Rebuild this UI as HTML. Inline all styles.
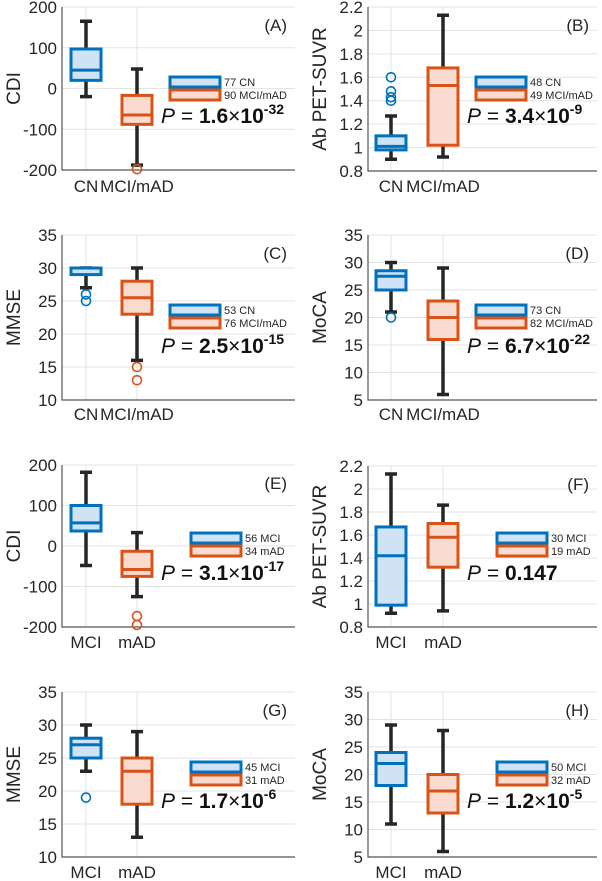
<!DOCTYPE html>
<html><head><meta charset="utf-8"><style>
html,body{margin:0;padding:0;background:#fff;}
svg{display:block;font-family:"Liberation Sans",Arial,sans-serif;}
</style></head><body>
<svg id="fig" width="602" height="881"></svg>
<script>
// data per panel: [min, q1, median, q3, max]
const panelIds = ["A","B","C","D","E","F","G","H"];
const yLabels = ["CDI","Ab PET-SUVR","MMSE","MoCA","CDI","Ab PET-SUVR","MMSE","MoCA"];
const cats = [["CN","MCI/mAD"],["CN","MCI/mAD"],["CN","MCI/mAD"],["CN","MCI/mAD"],["MCI","mAD"],["MCI","mAD"],["MCI","mAD"],["MCI","mAD"]];
const group1Stats = [[-20,20,45,97,165],[0.9,0.98,1.01,1.1,1.27],[27,29,30,30,30],[21,25,27.5,28.5,30],[-48,37,57,100,182],[0.92,0.99,1.42,1.67,2.13],[23,25,27,28,30],[11,18,22,24,29]];
const group2Stats = [[-188,-88,-65,-17,48],[0.92,1.02,1.53,1.68,2.13],[16,23,25.5,28,30],[6,16,20,23,29],[-125,-75,-58,-13,33],[0.94,1.32,1.58,1.70,1.86],[13,18,23,25,29],[6,13,17,20,28]];
const group1Outliers = [[],[1.6,1.48,1.43,1.40],[25,26],[20],[],[],[19],[]];
const group2Outliers = [[-198],[],[15,13],[],[-173,-195],[],[],[]];
const legend1 = ["77 CN","48 CN","53 CN","73 CN","56 MCI","30 MCI","45 MCI","50 MCI"];
const legend2 = ["90 MCI/mAD","49 MCI/mAD","76 MCI/mAD","82 MCI/mAD","34 mAD","19 mAD","31 mAD","32 mAD"];
const pMant = ["1.6","3.4","2.5","6.7","3.1","0.147","1.7","1.2"];
const pExp = ["-32","-9","-15","-22","-17","","-6","-5"];
const yTicks = [[-200,-100,0,100,200],[0.8,1,1.2,1.4,1.6,1.8,2,2.2],[10,15,20,25,30,35],[5,10,15,20,25,30,35],[-200,-100,0,100,200],[0.8,1,1.2,1.4,1.6,1.8,2,2.2],[10,15,20,25,30,35],[5,10,15,20,25,30,35]];

// layout (not data)
const layout = [
 {L:62,R:295,T:7,B:170,x1:86,x2:137,lx:170,ly:77,px:161,py:123,xl:192},
 {L:368,R:597,T:7,B:171,x1:391,x2:443,lx:476,ly:77,px:467,py:123,xl:192},
 {L:62,R:295,T:235,B:400,x1:86,x2:137,lx:170,ly:305,px:161,py:353,xl:420},
 {L:368,R:597,T:235,B:400,x1:391,x2:443,lx:476,ly:305,px:467,py:353,xl:420},
 {L:62,R:295,T:465,B:627,x1:86,x2:137,lx:191,ly:533,px:161,py:580,xl:648},
 {L:368,R:597,T:466,B:627,x1:391,x2:443,lx:497,ly:533,px:467,py:580,xl:648},
 {L:62,R:295,T:692,B:857,x1:86,x2:137,lx:191,ly:762,px:161,py:808,xl:878},
 {L:368,R:597,T:692,B:857,x1:391,x2:443,lx:497,ly:762,px:467,py:808,xl:878}
];
const NS="http://www.w3.org/2000/svg";
const svg=document.getElementById('fig');
function mk(tag,attrs,parent,text){
  const e=document.createElementNS(NS,tag);
  for(const k in attrs)e.setAttribute(k,attrs[k]);
  if(text!==undefined)e.textContent=text;
  (parent||svg).appendChild(e);return e;
}
const colors=[{s:"#0072BD",f:"#cfe3f5"},{s:"#D95319",f:"#f9dccf"}];
for(let i=0;i<8;i++){
  const g=layout[i];const t=yTicks[i];
  const ymin=t[0],ymax=t[t.length-1];
  const Y=v=>g.B-(v-ymin)/(ymax-ymin)*(g.B-g.T);
  const p=mk('g',{});
  
  
  t.forEach(v=>{
    const l=mk('line',{x1:g.L,x2:g.R,y1:Y(v),y2:Y(v),stroke:"#e3e3e3","stroke-width":1},p);
    
    const tx=mk('text',{x:g.L-5,y:Y(v)+6,"text-anchor":"end","font-size":17,fill:"#262626"},p,String(v));
    
  });
  [g.x1,g.x2].forEach((x,j)=>{
    const l=mk('line',{x1:x,x2:x,y1:g.T,y2:g.B,stroke:"#e3e3e3","stroke-width":1},p);
    
    const tx=mk('text',{x:x,y:g.xl,"text-anchor":"middle","font-size":17,fill:"#262626"},p,cats[i][j]);
    
  });
  const ax=mk('path',{d:`M${g.L},${g.T}V${g.B}H${g.R}`,fill:"none",stroke:"#555","stroke-width":1.2},p);
  
  const yl=mk('text',{transform:`translate(${g.L-42},${(g.T+g.B)/2}) rotate(-90)`,"text-anchor":"middle","font-size":19,fill:"#262626"},p,yLabels[i]);
  
  const pl=mk('text',{x:g.R-8,y:g.T+24,"text-anchor":"end","font-size":17,fill:"#262626"},p,"("+panelIds[i]+")");
  
  [[group1Stats[i],group1Outliers[i],g.x1],[group2Stats[i],group2Outliers[i],g.x2]].forEach(([s,o,x],j)=>{
    const c=colors[j];
    const w=mk('path',{d:`M${x},${Y(s[0])}V${Y(s[1])}M${x},${Y(s[3])}V${Y(s[4])}M${x-6},${Y(s[0])}H${x+6}M${x-6},${Y(s[4])}H${x+6}`,stroke:"#262626","stroke-width":3.5,fill:"none"},p);
    
    const b=mk('rect',{x:x-15,y:Y(s[3]),width:30,height:Math.max(1,Y(s[1])-Y(s[3])),fill:c.f,stroke:c.s,"stroke-width":3},p);
    
    const m=mk('line',{x1:x-15,x2:x+15,y1:Y(s[2]),y2:Y(s[2]),stroke:c.s,"stroke-width":3},p);
    
    o.forEach(v=>{
      const ci=mk('circle',{cx:x,cy:Y(v),r:4.5,fill:"none",stroke:c.s,"stroke-width":1.6},p);
      
    });
  });
  [legend1[i],legend2[i]].forEach((lab,j)=>{
    const c=colors[j];const y=g.ly+j*13;
    const r=mk('rect',{x:g.lx,y:y,width:50,height:10,fill:c.f,stroke:c.s,"stroke-width":3},p);
    
    const tx=mk('text',{x:g.lx+54,y:y+9,"font-size":11,fill:"#262626"},p,lab);
    
  });
  const pt=mk('text',{x:g.px,y:g.py,"font-size":21,fill:"#111"},p);
  
  mk('tspan',{"font-style":"italic"},pt,"P");
  mk('tspan',{},pt," =  ");
  mk('tspan',{"font-weight":"bold"},pt,pMant[i]);
  if(pExp[i]){
    mk('tspan',{},pt,"×");
    mk('tspan',{"font-weight":"bold"},pt,"10");
    mk('tspan',{"font-weight":"bold","font-size":14,dy:-9},pt,pExp[i]);
  }
}
</script>
</body></html>
